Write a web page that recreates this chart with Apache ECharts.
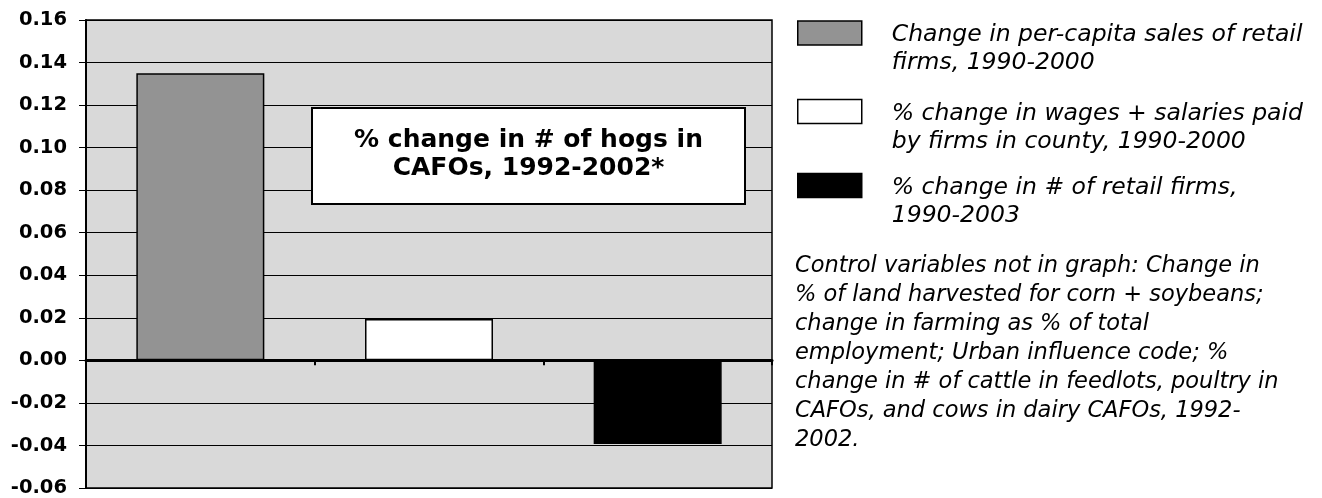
<!DOCTYPE html>
<html>
<head>
<meta charset="utf-8">
<script src="https://cdn.jsdelivr.net/npm/echarts@6/dist/echarts.min.js"></script>
<style>
html,body{margin:0;padding:0;background:#fff;}
#main{width:1322px;height:498px;}
</style>
</head>
<body>
<div id="main"></div>
<script>
const categories = ['A', 'B', 'C'];
const seriesNames = [
  'Change in per-capita sales of retail\nfirms, 1990-2000',
  '% change in wages + salaries paid\nby firms in county, 1990-2000',
  '% change in # of retail firms,\n1990-2003'
];
const salesValues = [0.135, '-', '-'];
const wagesValues = ['-', 0.0195, '-'];
const firmsValues = ['-', '-', -0.0393];
const seriesColors = ['#939393', '#ffffff', '#000000'];
const yTicks = { min: -0.06, max: 0.16, interval: 0.02 };
const annotationText = '% change in # of hogs in\nCAFOs, 1992-2002*';
const controlText = 'Control variables not in graph: Change in\n% of land harvested for corn + soybeans;\nchange in farming as % of total\nemployment; Urban influence code; %\nchange in # of cattle in feedlots, poultry in\nCAFOs, and cows in dairy CAFOs, 1992-\n2002.';

const FONT = '"DejaVu Sans", Verdana, sans-serif';
const chart = echarts.init(document.getElementById('main'));

const allValues = [salesValues, wagesValues, firmsValues];
const legendIconCenters = [32.5, 111, 185];

const option = {
  animation: false,
  grid: {
    left: 86, right: 550, top: 20, bottom: 10,
    show: true, backgroundColor: '#d9d9d9', borderColor: '#000', borderWidth: 1.5
  },
  legend: seriesNames.map((n, i) => ({
    data: [n],
    left: 797,
    top: legendIconCenters[i] - 32.5,
    padding: 0,
    itemWidth: 64,
    itemHeight: 24,
    itemGap: 0,
    selectedMode: false,
    icon: 'rect',
    itemStyle: { borderColor: '#000', borderWidth: 1.5 },
    formatter: name => '{pad|}\n' + name.split('\n').map(s => '{t|' + s + '}').join('\n'),
    textStyle: {
      fontFamily: FONT, fontStyle: 'italic', fontSize: 23.5, color: '#000',
      padding: [0, 0, 0, 25],
      rich: {
        pad: { lineHeight: 32, fontSize: 10 },
        t: { fontFamily: FONT, fontStyle: 'italic', fontSize: 23.5, color: '#000', lineHeight: 28 }
      }
    }
  })),
  xAxis: {
    type: 'category',
    data: categories,
    axisLine: { onZero: true, lineStyle: { color: '#000', width: 3 } },
    axisTick: { show: true, length: 5, inside: false, lineStyle: { color: '#000', width: 2 } },
    axisLabel: { show: false },
    splitLine: { show: false }
  },
  yAxis: {
    type: 'value',
    min: yTicks.min, max: yTicks.max, interval: yTicks.interval,
    axisLine: { show: true, lineStyle: { color: '#000', width: 2 } },
    axisTick: { show: true, length: 7, lineStyle: { color: '#000', width: 1 } },
    axisLabel: {
      fontFamily: FONT, fontWeight: 'bold', fontSize: 19.5, color: '#000', margin: 19,
      formatter: v => v.toFixed(2)
    },
    splitLine: { show: true, lineStyle: { color: '#000', width: 1 } }
  },
  series: seriesNames.map((n, i) => ({
    name: n,
    type: 'bar',
    data: allValues[i],
    barWidth: 128,
    barGap: '-100%',
    itemStyle: { color: seriesColors[i], borderColor: '#000', borderWidth: 1.5 }
  })),
  graphic: [
    {
      type: 'rect',
      shape: { x: 312, y: 108, width: 433, height: 96 },
      style: { fill: '#fff', stroke: '#000', lineWidth: 2 },
      z: 100
    },
    {
      type: 'text',
      x: 528.5, y: 154,
      style: {
        text: annotationText, fontFamily: FONT, fontWeight: 'bold', fontSize: 25,
        lineHeight: 28, fill: '#000', align: 'center', verticalAlign: 'middle'
      },
      z: 101
    },
    {
      type: 'text',
      x: 795, y: 252,
      style: {
        text: controlText, fontFamily: FONT, fontStyle: 'italic', fontSize: 22.5,
        lineHeight: 29, fill: '#000', align: 'left', verticalAlign: 'top'
      }
    }
  ]
};
chart.setOption(option);
</script>
</body>
</html>
